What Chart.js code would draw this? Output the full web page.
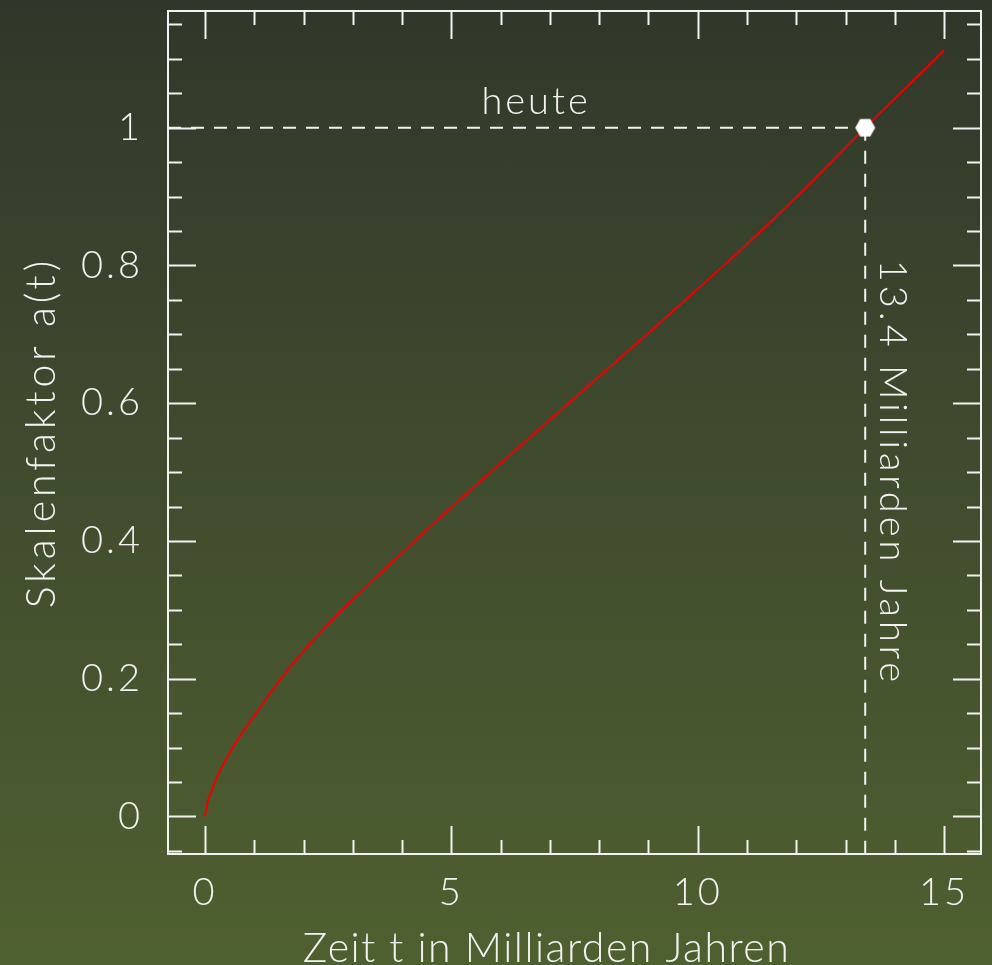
<!DOCTYPE html>
<html>
<head>
<meta charset="utf-8">
<script src="https://cdn.jsdelivr.net/npm/chart.js@4.4.0/dist/chart.umd.min.js"></script>
<style>
  html, body { margin: 0; padding: 0; }
  body {
    width: 992px; height: 965px; overflow: hidden;
    background: linear-gradient(to bottom, #30372a 0%, #3f4a2e 45%, #4f6030 100%);
  }
  canvas { display: block; }
</style>
</head>
<body>
<canvas id="scalefactor" width="992" height="965"></canvas>
<script>
// Zeit t (Mrd. Jahre) und Skalenfaktor a(t)
const tValues = [0, 0.05, 0.1, 0.25, 0.5, 0.75, 1, 1.5, 2, 2.5, 3, 3.5, 4, 5, 6, 7, 8, 9, 10, 11, 12, 13, 13.4, 14, 15];
const aValues = [0, 0.020, 0.031, 0.058, 0.092, 0.121, 0.146, 0.196, 0.240, 0.279, 0.315, 0.349, 0.383, 0.449, 0.513, 0.576, 0.639, 0.702, 0.766, 0.831, 0.899, 0.971, 1.0, 1.042, 1.1125];

const todayT = 13.4;
const todayA = 1;

const xTickValues = [0, 5, 10, 15];
const yTickValues = [0, 0.2, 0.4, 0.6, 0.8, 1];

const xTitle = 'Zeit t in Milliarden Jahren';
const yTitle = 'Skalenfaktor a(t)';
const todayLabel = 'heute';
const ageLabel = '13.4 Milliarden Jahre';

const xMin = -0.75, xMax = 15.75;
const yMin = -0.0545, yMax = 1.1695;

const FONT = 'Lato, "DejaVu Sans", sans-serif';
const WHITE = '#f2f2f2';

// weisses Sechseck als Punktsymbol
function hexagon(r) {
  const c = document.createElement('canvas');
  c.width = 2 * r + 2;
  c.height = 2 * r + 2;
  const g = c.getContext('2d');
  g.beginPath();
  for (let i = 0; i < 6; i++) {
    const ang = i * Math.PI / 3;
    const px = r + 1 + r * Math.cos(ang);
    const py = r + 1 + r * Math.sin(ang);
    if (i === 0) g.moveTo(px, py); else g.lineTo(px, py);
  }
  g.closePath();
  g.fillStyle = '#ffffff';
  g.fill();
  return c;
}

function noPadding(axis) {
  axis.paddingTop = 0;
  axis.paddingBottom = 0;
  axis.paddingLeft = 0;
  axis.paddingRight = 0;
}

// breitere Schrift fuer die Tick-Beschriftungen
const spacingPlugin = {
  id: 'spacing',
  beforeDraw(chart) { chart.ctx.letterSpacing = '3px'; },
  afterDraw(chart) { chart.ctx.letterSpacing = '0px'; }
};

// Rahmen, Ticks rundherum und Beschriftungen
const framePlugin = {
  id: 'frame',
  afterDatasetsDraw(chart) {
    const ctx = chart.ctx;
    const a = chart.chartArea;
    const xs = chart.scales.x, ys = chart.scales.y;
    ctx.save();
    ctx.strokeStyle = WHITE;
    ctx.lineWidth = 2;
    ctx.strokeRect(a.left, a.top, a.right - a.left, a.bottom - a.top);

    ctx.beginPath();
    for (let v = 0; v <= 15; v++) {
      const px = Math.round(xs.getPixelForValue(v)) + 0.5;
      const len = v % 5 === 0 ? 28 : 14;
      ctx.moveTo(px, a.bottom); ctx.lineTo(px, a.bottom - len);
      ctx.moveTo(px, a.top); ctx.lineTo(px, a.top + len);
    }
    for (let k = -1; k <= 23; k++) {
      const py = Math.round(ys.getPixelForValue(k * 0.05)) + 0.5;
      const len = k % 4 === 0 ? 28 : 14;
      ctx.moveTo(a.left, py); ctx.lineTo(a.left + len, py);
      ctx.moveTo(a.right, py); ctx.lineTo(a.right - len, py);
    }
    ctx.stroke();

    ctx.fillStyle = WHITE;
    ctx.font = '300 38px ' + FONT;
    ctx.textAlign = 'center';
    ctx.textBaseline = 'alphabetic';
    ctx.letterSpacing = '3px';
    ctx.fillText(todayLabel, xs.getPixelForValue(6.72), ys.getPixelForValue(todayA) - 14);

    ctx.save();
    ctx.letterSpacing = '4px';
    ctx.translate(xs.getPixelForValue(todayT) + 15, (ys.getPixelForValue(todayA) + a.bottom) / 2 - 18);
    ctx.rotate(Math.PI / 2);
    ctx.fillText(ageLabel, 0, 0);
    ctx.restore();

    ctx.font = '300 41px ' + FONT;
    ctx.letterSpacing = '1.5px';
    ctx.fillText(xTitle, (a.left + a.right) / 2 - 28, 962);

    ctx.save();
    ctx.letterSpacing = '4px';
    ctx.translate(55, (a.top + a.bottom) / 2);
    ctx.rotate(-Math.PI / 2);
    ctx.fillText(yTitle, 0, 0);
    ctx.restore();
    ctx.restore();
  }
};

const ctx = document.getElementById('scalefactor');

new Chart(ctx, {
  type: 'line',
  data: {
    datasets: [
      {
        label: 'a(t)',
        data: tValues.map((t, i) => ({x: t, y: aValues[i]})),
        borderColor: '#ee0000',
        borderWidth: 2,
        pointRadius: 0,
        cubicInterpolationMode: 'monotone',
        order: 2
      },
      {
        label: 'heute',
        data: [{x: xMin, y: todayA}, {x: todayT, y: todayA}],
        borderColor: WHITE,
        borderWidth: 2,
        borderDash: [13, 10],
        pointRadius: 0,
        order: 3
      },
      {
        label: 'alter',
        data: [{x: todayT, y: todayA}, {x: todayT, y: yMin}],
        borderColor: WHITE,
        borderWidth: 2,
        borderDash: [13, 10],
        pointRadius: 0,
        order: 3
      },
      {
        label: 'punkt',
        data: [{x: todayT, y: todayA}],
        showLine: false,
        pointStyle: hexagon(10),
        pointRadius: 10,
        order: 1
      }
    ]
  },
  options: {
    responsive: false,
    animation: false,
    devicePixelRatio: 1,
    layout: { padding: { top: 9, right: 9, left: 0, bottom: 0 } },
    plugins: { legend: { display: false }, tooltip: { enabled: false } },
    scales: {
      x: {
        type: 'linear',
        min: xMin,
        max: xMax,
        afterBuildTicks: axis => { axis.ticks = xTickValues.map(v => ({value: v})); },
        afterFit: axis => { axis.height = 111; noPadding(axis); },
        grid: { display: false, drawTicks: false },
        border: { display: false },
        ticks: {
          color: WHITE,
          font: { family: FONT, size: 38, weight: 300 },
          padding: 16,
          maxRotation: 0,
          autoSkip: false,
          callback: v => String(v)
        }
      },
      y: {
        type: 'linear',
        min: yMin,
        max: yMax,
        afterBuildTicks: axis => { axis.ticks = yTickValues.map(v => ({value: v})); },
        afterFit: axis => { axis.width = 168; noPadding(axis); },
        grid: { display: false, drawTicks: false },
        border: { display: false },
        ticks: {
          color: WHITE,
          font: { family: FONT, size: 38, weight: 300 },
          padding: 25,
          autoSkip: false,
          callback: v => String(Math.round(v * 10) / 10)
        }
      }
    }
  },
  plugins: [spacingPlugin, framePlugin]
});
</script>
</body>
</html>
